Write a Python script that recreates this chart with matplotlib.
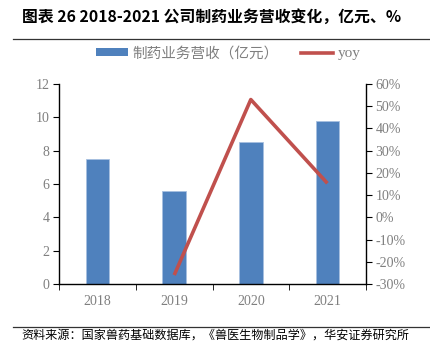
import matplotlib
matplotlib.use('Agg')
import matplotlib.pyplot as plt
import numpy as np
from matplotlib.lines import Line2D
from matplotlib.patches import Patch

plt.rcParams['font.family'] = ['Noto Sans CJK SC', 'DejaVu Sans']

# 数据
years = ['2018', '2019', '2020', '2021']
revenue = [7.5, 5.55, 8.5, 9.8]
yoy_years = ['2019', '2020', '2021']
yoy = [-26.0, 53.0, 15.3]

bar_color = '#4F81BD'
line_color = '#C0504D'
grey = '#7F7F7F'
serif = 'Liberation Serif'

fig = plt.figure(figsize=(4.31, 3.51), dpi=100)
ax = fig.add_axes([0.1376, 0.191, 0.7109, 0.5697])
ax2 = ax.twinx()

x = np.arange(len(years))
ax.bar(x, revenue, width=0.31, color=bar_color, edgecolor='#A7C0E0', linewidth=0.6, zorder=2)
xi = [years.index(y) for y in yoy_years]
ax2.plot(xi, yoy, color=line_color, linewidth=2.6, solid_capstyle='butt', zorder=3)

ax.set_xlim(-0.5, len(years) - 0.5)
ax.set_ylim(0, 12)
ax.set_yticks(range(0, 13, 2))
ax2.set_ylim(-30, 60)
ax2.set_yticks(range(-30, 61, 10))
ax2.set_yticklabels([f'{v}%' for v in range(-30, 61, 10)])

ax.set_xticks(x)
ax.set_xticklabels(years)
ax.set_xticks(np.arange(-0.5, len(years)), minor=True)
ax.tick_params(axis='x', which='major', length=0, pad=8)
ax.tick_params(axis='x', which='minor', length=4, direction='out', color='black')
ax.tick_params(axis='y', length=4, direction='out', pad=3)
ax2.tick_params(axis='y', length=4, direction='out', pad=3)

for lab in ax.get_xticklabels() + ax.get_yticklabels() + ax2.get_yticklabels():
    lab.set_fontfamily(serif)
    lab.set_fontsize(10)
    lab.set_color(grey)

for a in (ax, ax2):
    a.spines['top'].set_visible(False)
    for s in ('left', 'right', 'bottom'):
        a.spines[s].set_color('black')
        a.spines[s].set_linewidth(1.0)
ax.spines['right'].set_visible(False)
ax2.spines['left'].set_visible(False)
ax2.spines['bottom'].set_visible(False)

# 图例
handles = [Patch(facecolor=bar_color, edgecolor='none'),
           Line2D([0], [0], color=line_color, linewidth=2.6)]
leg = fig.legend(handles, ['制药业务营收（亿元）', 'yoy'], loc='center left',
                 bbox_to_anchor=(0.222, 0.848), ncol=2, frameon=False,
                 fontsize=10.5, handlelength=2.2, handleheight=0.5,
                 columnspacing=1.5, handletextpad=0.35, labelcolor=grey,
                 borderpad=0, borderaxespad=0)
leg.get_texts()[1].set_fontfamily(serif)
leg.get_texts()[1].set_fontsize(11)

# 标题与来源
fig.text(0.051, 0.952, '图表 26 2018-2021 公司制药业务营收变化，亿元、%',
         fontsize=11.4, fontweight='bold', va='center', ha='left', color='black')
fig.add_artist(Line2D([0.03, 0.998], [0.890, 0.890], color='#333333', linewidth=0.9))
fig.add_artist(Line2D([0.03, 1.0], [0.069, 0.069], color='#333333', linewidth=0.9))
fig.text(0.05, 0.045, '资料来源：国家兽药基础数据库，《兽医生物制品学》，华安证券研究所',
         fontsize=8.7, va='center', ha='left', color='black')

fig.savefig('out.png', dpi=100)
